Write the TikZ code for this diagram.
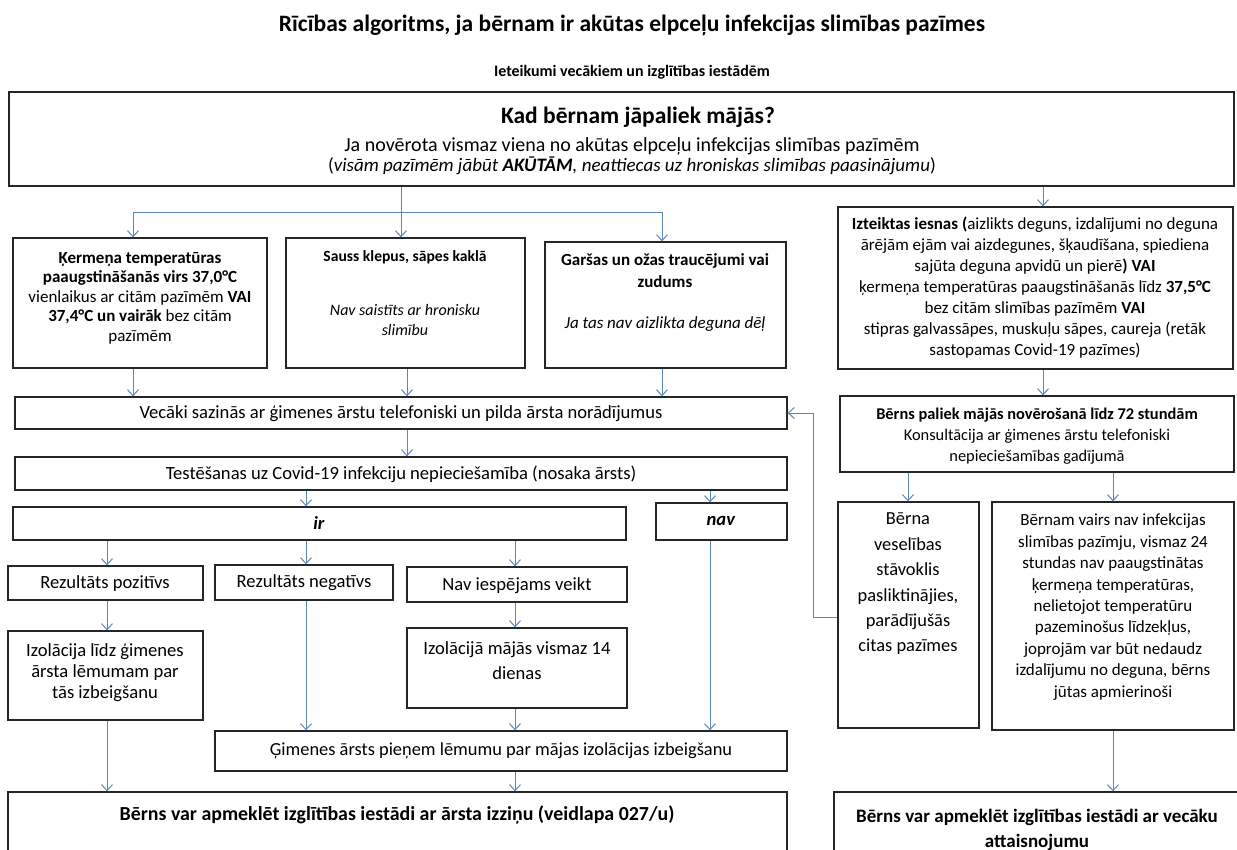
\documentclass[tikz,border=0pt]{standalone}
\usepackage{fontspec}
\setmainfont{Carlito}
\usetikzlibrary{arrows.meta}
\definecolor{arrowblue}{RGB}{91,135,192}
\newcommand\fsz[2]{\fontsize{#1}{#2}\selectfont}
\tikzset{
  box/.style={draw=black!85, line width=1.3pt, inner sep=0pt},
  txt/.style={align=center, inner sep=0pt, font=\fsz{18.6}{20}},
  ln/.style={draw=arrowblue, line width=1pt},
  arr/.style={ln, -{Straight Barb[length=6pt,width=11pt]}},
}
\newcommand\mybox[5]{%
  \node[box, minimum width={(#4-#2)*1pt}, minimum height={(#5-#3)*1pt}] (#1) at ({(#2+#4)/2},{(#3+#5)/2}) {};}
\begin{document}
\begin{tikzpicture}[x=1pt,y=-1pt]
\useasboundingbox (0,0) rectangle (1237,850);
\clip (0,0) rectangle (1237,850);

% titles
\node[txt, font=\fsz{23.5}{26}\bfseries] (title) at (632,25) {Rīcības algoritms, ja bērnam ir akūtas elpceļu infekcijas slimības pazīmes};
\node[txt, font=\fsz{16}{18}\bfseries] (sub) at (632,72) {Ieteikumi vecākiem un izglītības iestādēm};

% boxes
\mybox{top}{9}{92}{1234}{186}
\mybox{A}{13}{238}{267}{368}
\mybox{B}{286}{238}{525}{368}
\mybox{C}{545}{242}{786}{368}
\mybox{D}{838}{207}{1233}{369}
\mybox{E}{15}{397}{787}{429}
\mybox{F}{840}{396}{1234}{472}
\mybox{I}{15}{457}{787}{490}
\mybox{J}{13}{507}{626}{540}
\mybox{K}{656}{503}{787}{540}
\mybox{L}{8}{566}{203}{600}
\mybox{M}{215}{565}{393}{600}
\mybox{N}{407}{567}{627}{602}
\mybox{O}{8}{631}{203}{720}
\mybox{P}{407}{628}{627}{708}
\mybox{G}{838}{502}{979}{728}
\mybox{H}{992}{502}{1234}{730}
\mybox{Q}{215}{731}{787}{771}
\mybox{R}{8}{792}{787}{880}
\mybox{S}{834}{792}{1245}{880}

% texts
\node[txt, font=\fsz{23.5}{26}\bfseries] (kad) at (638,117) {Kad bērnam jāpaliek mājās?};
\node[txt, font=\fsz{20}{20}] (tb1) at (632,146) {Ja novērota vismaz viena no akūtas elpceļu infekcijas slimības pazīmēm};
\node[txt, font=\fsz{19}{20}] (tb2) at (632,166) {(\textit{visām pazīmēm jābūt \textbf{AKŪTĀM}, neattiecas uz hroniskas slimības paasinājumu})};

\node[txt, font=\fsz{17}{19.5}] (At) at (140,298) {\textbf{Ķermeņa temperatūras}\\ \textbf{paaugstināšanās virs 37,0°C}\\ vienlaikus ar citām pazīmēm \textbf{VAI}\\ \textbf{37,4°C un vairāk} bez citām\\ pazīmēm};
\node[txt, font=\fsz{15.6}{20}] (Bt1) at (405,257) {\textbf{Sauss klepus, sāpes kaklā}};
\node[txt, font=\fsz{16}{20}] (Bt2) at (405,320) {\textit{Nav saistīts ar hronisku}\\ \textit{slimību}};
\node[txt, font=\fsz{17}{22}] (Ct1) at (665,271) {\textbf{Garšas un ožas traucējumi vai}\\ \textbf{zudums}};
\node[txt, font=\fsz{17}{22}] (Ct2) at (665,324) {\textit{Ja tas nav aizlikta deguna dēļ}};
\node[txt, font=\fsz{17}{21}] (Dt) at (1035,288) {\textbf{Izteiktas iesnas (}aizlikts deguns, izdalījumi no deguna\\ ārējām ejām vai aizdegunes, šķaudīšana, spiediena\\ sajūta deguna apvidū un pierē\textbf{) VAI}\\ ķermeņa temperatūras paaugstināšanās līdz \textbf{37,5°C}\\ bez citām slimības pazīmēm \textbf{VAI}\\ stipras galvassāpes, muskuļu sāpes, caureja (retāk\\ sastopamas Covid-19 pazīmes)};
\node[txt] (Et) at (401,414) {Vecāki sazinās ar ģimenes ārstu telefoniski un pilda ārsta norādījumus};
\node[txt, font=\fsz{16.4}{21}] (Ft) at (1037,436) {\textbf{Bērns paliek mājās novērošanā līdz 72 stundām}\\ Konsultācija ar ģimenes ārstu telefoniski\\ nepieciešamības gadījumā};
\node[txt] (It) at (401,474) {Testēšanas uz Covid-19 infekciju nepieciešamība (nosaka ārsts)};
\node[txt] (Jt) at (319,523) {\textbf{\textit{ir}}};
\node[txt] (Kt) at (721,521) {\textbf{\textit{nav}}};
\node[txt] (Lt) at (105,584) {Rezultāts pozitīvs};
\node[txt] (Mt) at (304,583) {Rezultāts negatīvs};
\node[txt] (Nt) at (517,586) {Nav iespējams veikt};
\node[txt, font=\fsz{18.6}{21}] (Ot) at (105,673) {Izolācija līdz ģimenes\\ ārsta lēmumam par\\ tās izbeigšanu};
\node[txt, font=\fsz{18.6}{25}] (Pt) at (517,661) {Izolācijā mājās vismaz 14\\ dienas};
\node[txt, font=\fsz{18.4}{25.4}] (Gt) at (908,584) {Bērna\\ veselības\\ stāvoklis\\ pasliktinājies,\\ parādījušās\\ citas pazīmes};
\node[txt, font=\fsz{17}{21.4}] (Ht) at (1113,607) {Bērnam vairs nav infekcijas\\ slimības pazīmju, vismaz 24\\ stundas nav paaugstinātas\\ ķermeņa temperatūras,\\ nelietojot temperatūru\\ pazeminošus līdzekļus,\\ joprojām var būt nedaudz\\ izdalījumu no deguna, bērns\\ jūtas apmierinoši};
\node[txt, font=\fsz{18.4}{20}] (Qt) at (501,751) {Ģimenes ārsts pieņem lēmumu par mājas izolācijas izbeigšanu};
\node[txt, font=\fsz{19.9}{21}\bfseries] (Rt) at (397,815) {Bērns var apmeklēt izglītības iestādi ar ārsta izziņu (veidlapa 027/u)};
\node[txt, font=\fsz{19}{25}\bfseries] (St) at (1037,830) {Bērns var apmeklēt izglītības iestādi ar vecāku\\ attaisnojumu};

% column coordinates
\coordinate (c107) at (107,0);
\coordinate (c133) at (133,0);
\coordinate (c306) at (306,0);
\coordinate (c401) at (401,0);
\coordinate (c407) at (407,0);
\coordinate (c515) at (515,0);
\coordinate (c662) at (662,0);
\coordinate (c710) at (710,0);
\coordinate (c813) at (813,0);
\coordinate (c908) at (908,0);
\coordinate (c1043) at (1043,0);
\coordinate (c1113) at (1113,0);
\coordinate (j1) at (401,213);
\coordinate (fb) at (0,617);

% connectors
\draw[ln] (top.south -| c401) -- (j1);
\draw[arr] (j1) -| (A.north -| c133);
\draw[arr] (j1) -- (B.north -| c401);
\draw[arr] (j1) -| (C.north -| c662);
\draw[arr] (top.south -| c1043) -- (D.north -| c1043);
\draw[arr] (A.south -| c133) -- (E.north -| c133);
\draw[arr] (B.south -| c407) -- (E.north -| c407);
\draw[arr] (C.south -| c662) -- (E.north -| c662);
\draw[arr] (D.south -| c1043) -- (F.north -| c1043);
\draw[arr] (E.south -| c407) -- (I.north -| c407);
\draw[arr] (I.south -| c306) -- (J.north -| c306);
\draw[arr] (I.south -| c710) -- (K.north -| c710);
\draw[arr] (J.south -| c107) -- (L.north -| c107);
\draw[arr] (J.south -| c306) -- (M.north -| c306);
\draw[arr] (J.south -| c515) -- (N.north -| c515);
\draw[arr] (L.south -| c107) -- (O.north -| c107);
\draw[arr] (N.south -| c515) -- (P.north -| c515);
\draw[arr] (O.south -| c107) -- (R.north -| c107);
\draw[arr] (M.south -| c306) -- (Q.north -| c306);
\draw[arr] (P.south -| c515) -- (Q.north -| c515);
\draw[arr] (K.south -| c710) -- (Q.north -| c710);
\draw[arr] (Q.south -| c515) -- (R.north -| c515);
\draw[arr] (F.south -| c908) -- (G.north -| c908);
\draw[arr] (F.south -| c1113) -- (H.north -| c1113);
\draw[arr] (H.south -| c1113) -- (S.north -| c1113);
\draw[arr] (G.west |- fb) -| (c813 |- E.east) -- (E.east);
\end{tikzpicture}
\end{document}
